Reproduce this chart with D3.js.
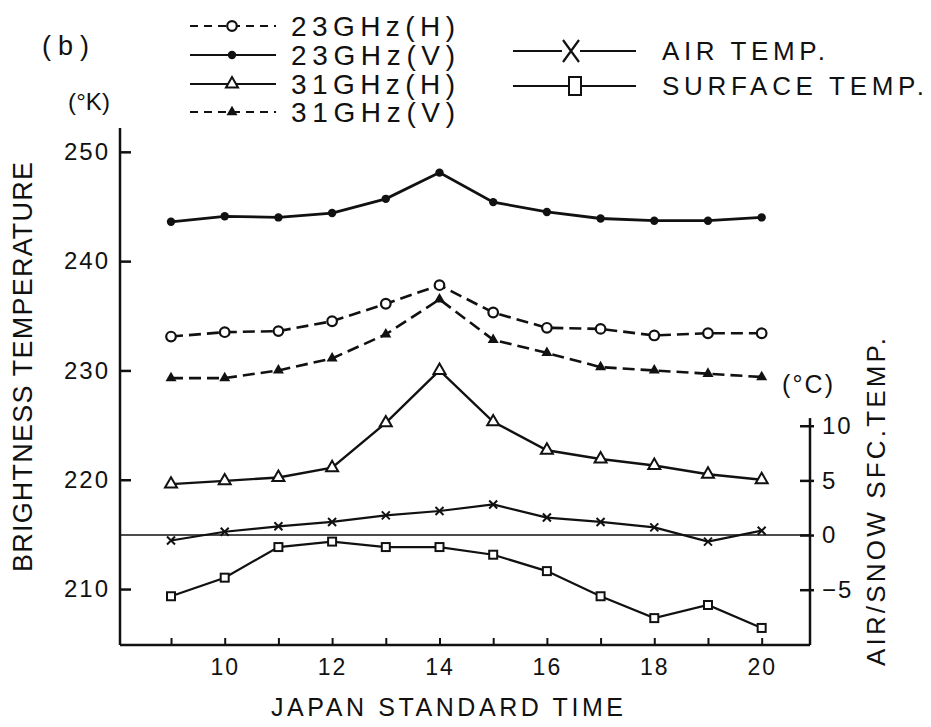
<!DOCTYPE html>
<html>
<head>
<meta charset="utf-8">
<script src="https://cdn.jsdelivr.net/npm/d3@7"></script>
<style>
  html, body { margin: 0; padding: 0; background: #fff; }
  svg { display: block; }
  text { font-family: "Liberation Sans", Arial, Helvetica, sans-serif; fill: #111; }
</style>
</head>
<body>
<svg id="chart" width="931" height="727"></svg>
<script>
// ---- data ----
const hours = [9, 10, 11, 12, 13, 14, 15, 16, 17, 18, 19, 20];
const tb23H = [233.1, 233.5, 233.6, 234.5, 236.1, 237.8, 235.3, 233.9, 233.8, 233.2, 233.4, 233.4];
const tb23V = [243.6, 244.1, 244.0, 244.4, 245.7, 248.1, 245.4, 244.5, 243.9, 243.7, 243.7, 244.0];
const tb31H = [219.6, 219.9, 220.2, 221.1, 225.2, 230.0, 225.3, 222.7, 221.9, 221.3, 220.5, 220.0];
const tb31V = [229.3, 229.3, 230.0, 231.1, 233.3, 236.5, 232.8, 231.6, 230.3, 230.0, 229.7, 229.4];
const airTemp = [-0.5, 0.3, 0.8, 1.2, 1.8, 2.2, 2.8, 1.6, 1.2, 0.7, -0.6, 0.4];
const sfcTemp = [-5.6, -3.9, -1.1, -0.6, -1.1, -1.1, -1.8, -3.3, -5.6, -7.6, -6.4, -8.5];

const leftTicks = [210, 220, 230, 240, 250];
const rightTicks = [-5, 0, 5, 10];
const xTicks = [9, 10, 11, 12, 13, 14, 15, 16, 17, 18, 19, 20];
const xLabelHours = [10, 12, 14, 16, 18, 20];

const xDomain = [8.05, 20.9];
const yLeftDomain = [204.88, 252.18];
const yRightDomain = [-10.06, 37.24];
const rightAxisTop = 10.7;

// ---- layout ----
const svg = d3.select("#chart");
const plot = { left: 120, right: 810, top: 128, bottom: 645 };

const x = d3.scaleLinear().domain(xDomain).range([plot.left, plot.right]);
const yL = d3.scaleLinear().domain(yLeftDomain).range([plot.bottom, plot.top]);
const yR = d3.scaleLinear().domain(yRightDomain).range([plot.bottom, plot.top]);

const ink = "#111";

// ---- axes ----
const axL = svg.append("g").attr("transform", `translate(${plot.left},0)`)
  .call(d3.axisLeft(yL).tickValues(leftTicks).tickSize(-11).tickPadding(10).tickFormat(d3.format("d")));
axL.select(".domain").remove();
axL.selectAll("line").attr("stroke", ink).attr("stroke-width", 2.5);
axL.selectAll("text").attr("font-size", 24).attr("letter-spacing", 2).attr("fill", ink).attr("font-family", "Liberation Sans");

const axR = svg.append("g").attr("transform", `translate(${plot.right},0)`)
  .call(d3.axisRight(yR).tickValues(rightTicks).tickSize(-10).tickPadding(12).tickFormat(d => d < 0 ? "\u2212" + Math.abs(d) : d));
axR.select(".domain").remove();
axR.selectAll("line").attr("stroke", ink).attr("stroke-width", 2.5).attr("x2", -10).attr("x1", 4);
axR.selectAll("text").attr("font-size", 24).attr("letter-spacing", 2).attr("fill", ink).attr("font-family", "Liberation Sans");

const axB = svg.append("g").attr("transform", `translate(0,${plot.bottom})`)
  .call(d3.axisBottom(x).tickValues(xTicks).tickSize(-7).tickPadding(14)
    .tickFormat(d => xLabelHours.includes(d) ? d : ""));
axB.select(".domain").remove();
axB.selectAll("line").attr("stroke", ink).attr("stroke-width", 2);
axB.selectAll("text").attr("font-size", 23).attr("letter-spacing", 2).attr("fill", ink).attr("font-family", "Liberation Sans");

// axis lines
svg.append("line").attr("x1", plot.left).attr("x2", plot.left)
  .attr("y1", plot.top).attr("y2", plot.bottom).attr("stroke", ink).attr("stroke-width", 2.5);
svg.append("line").attr("x1", plot.left).attr("x2", plot.right)
  .attr("y1", plot.bottom).attr("y2", plot.bottom).attr("stroke", ink).attr("stroke-width", 2.5);
svg.append("line").attr("x1", plot.right).attr("x2", plot.right)
  .attr("y1", yR(rightAxisTop)).attr("y2", plot.bottom).attr("stroke", ink).attr("stroke-width", 2.5);
// zero line for air/snow temperatures
svg.append("line").attr("x1", plot.left).attr("x2", plot.right)
  .attr("y1", yR(0)).attr("y2", yR(0)).attr("stroke", ink).attr("stroke-width", 1.6);

// ---- series ----
function tri(s) { // triangle path centred at 0,0 with side s
  const h = s * Math.sqrt(3) / 2;
  return `M0,${-h * 2 / 3}L${s / 2},${h / 3}L${-s / 2},${h / 3}Z`;
}
function cross(s) {
  const a = s / 2;
  return `M${-a},${-a}L${a},${a}M${a},${-a}L${-a},${a}`;
}
const markers = {
  openCircle: g => g.append("circle").attr("r", 4.8).attr("fill", "#fff").attr("stroke", ink).attr("stroke-width", 2.2),
  dot: g => g.append("circle").attr("r", 4.2).attr("fill", ink),
  openTri: g => g.append("path").attr("d", tri(12)).attr("fill", "#fff").attr("stroke", ink).attr("stroke-width", 2),
  fillTri: g => g.append("path").attr("d", tri(11)).attr("fill", ink),
  cross: g => g.append("path").attr("d", cross(8)).attr("fill", "none").attr("stroke", ink).attr("stroke-width", 2),
  openSquare: g => g.append("rect").attr("x", -4).attr("y", -4).attr("width", 8).attr("height", 8).attr("fill", "#fff").attr("stroke", ink).attr("stroke-width", 2)
};

const series = [
  { name: "23GHz(H)", values: tb23H, scale: yL, dash: "12,6", marker: "openCircle", width: 2.6 },
  { name: "23GHz(V)", values: tb23V, scale: yL, dash: null, marker: "dot", width: 2.8 },
  { name: "31GHz(H)", values: tb31H, scale: yL, dash: null, marker: "openTri", width: 2.4 },
  { name: "31GHz(V)", values: tb31V, scale: yL, dash: "12,6", marker: "fillTri", width: 2.6 },
  { name: "AIR TEMP.", values: airTemp, scale: yR, dash: null, marker: "cross", width: 2.2 },
  { name: "SURFACE TEMP.", values: sfcTemp, scale: yR, dash: null, marker: "openSquare", width: 2.2 }
];

series.forEach(s => {
  const pts = hours.map((h, i) => [h, s.values[i]]);
  const line = d3.line().x(d => x(d[0])).y(d => s.scale(d[1]));
  svg.append("path").datum(pts).attr("d", line).attr("fill", "none")
    .attr("stroke", ink).attr("stroke-width", s.width)
    .attr("stroke-dasharray", s.dash);
  pts.forEach(p => {
    const g = svg.append("g").attr("transform", `translate(${x(p[0])},${s.scale(p[1])})`);
    markers[s.marker](g);
  });
});

// ---- legend ----
const legendLeft = [
  { idx: 0, y: 26 }, { idx: 1, y: 55 }, { idx: 2, y: 84 }, { idx: 3, y: 112 }
];
legendLeft.forEach(l => {
  const s = series[l.idx];
  svg.append("line").attr("x1", 190).attr("x2", 276).attr("y1", l.y).attr("y2", l.y)
    .attr("stroke", ink).attr("stroke-width", 2.2).attr("stroke-dasharray", s.dash ? "8,6" : null);
  markers[s.marker](svg.append("g").attr("transform", `translate(232,${l.y})`));
  svg.append("text").attr("x", 291).attr("y", l.y + 10).attr("font-size", 28)
    .attr("textLength", 164).attr("lengthAdjust", "spacing").text(s.name);
});
const legendRight = [{ idx: 4, y: 51 }, { idx: 5, y: 86 }];
legendRight.forEach(l => {
  const s = series[l.idx];
  svg.append("line").attr("x1", 513).attr("x2", 636).attr("y1", l.y).attr("y2", l.y)
    .attr("stroke", ink).attr("stroke-width", 2.2);
  const g = svg.append("g").attr("transform", `translate(${l.idx === 4 ? 571 : 575},${l.y})`);
  if (l.idx === 4) {
    g.append("rect").attr("x", -9).attr("y", -11).attr("width", 18).attr("height", 22).attr("fill", "#fff");
    g.append("path").attr("d", "M-8,-11L8,11M8,-11L-8,11").attr("stroke", ink).attr("stroke-width", 2.2).attr("fill", "none");
  } else {
    g.append("rect").attr("x", -6).attr("y", -9).attr("width", 12).attr("height", 18).attr("fill", "#fff").attr("stroke", ink).attr("stroke-width", 2);
  }
  svg.append("text").attr("x", 662).attr("y", l.y + 9).attr("font-size", 26)
    .attr("textLength", l.idx === 4 ? 163 : 262).attr("lengthAdjust", "spacing").text(s.name);
});

// ---- labels ----
svg.append("text").attr("x", 42).attr("y", 55).attr("font-size", 27)
  .attr("textLength", 47).attr("lengthAdjust", "spacing").text("(b)");
svg.append("text").attr("x", 68).attr("y", 110).attr("font-size", 24)
  .attr("textLength", 42).attr("lengthAdjust", "spacing").text("(°K)");
svg.append("text").attr("x", 782).attr("y", 393).attr("font-size", 25)
  .attr("textLength", 51).attr("lengthAdjust", "spacing").text("(°C)");

svg.append("text").attr("transform", "translate(32,367) rotate(-90)")
  .attr("text-anchor", "middle").attr("font-size", 27)
  .attr("textLength", 410).attr("lengthAdjust", "spacing").text("BRIGHTNESS TEMPERATURE");
svg.append("text").attr("transform", "translate(885,502) rotate(-90)")
  .attr("text-anchor", "middle").attr("font-size", 26)
  .attr("textLength", 328).attr("lengthAdjust", "spacing").text("AIR/SNOW SFC.TEMP.");
svg.append("text").attr("x", 447).attr("y", 716).attr("text-anchor", "middle").attr("font-size", 25)
  .attr("textLength", 352).attr("lengthAdjust", "spacing").text("JAPAN STANDARD TIME");
</script>
</body>
</html>
